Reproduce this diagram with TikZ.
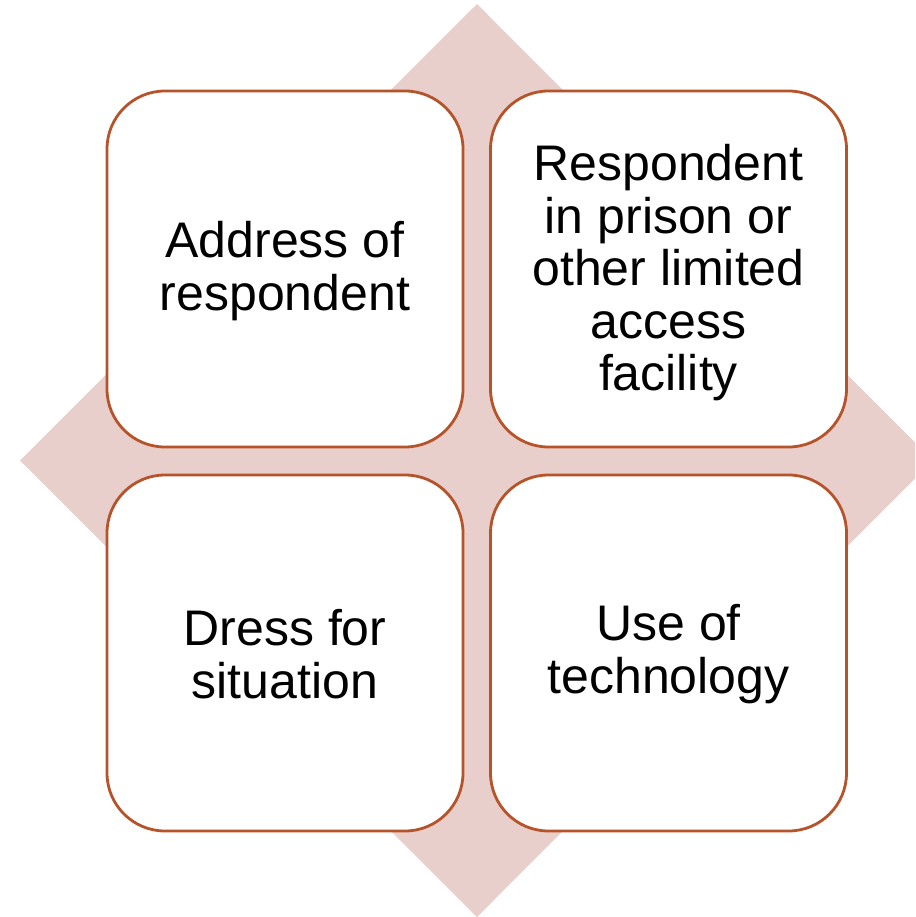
\documentclass[tikz,border=0pt]{standalone}
\usepackage{fontspec}
\setmainfont{Liberation Sans}
\definecolor{diam}{HTML}{E8CFCB}
\definecolor{edge}{HTML}{B5532A}
\begin{document}
\begin{tikzpicture}[x=1pt,y=-1pt,
  card/.style={draw=edge,line width=2.8pt,fill=white,rounded corners=58pt,
    minimum width=356pt,minimum height=356pt,inner sep=0pt},
  txt/.style={align=center,font=\fontsize{50}{52.5}\selectfont,inner sep=0pt}]
\useasboundingbox (0,0) rectangle (915,917);
\begin{scope}
\clip (0,0) rectangle (915,917);
\fill[diam] (477,4) -- (933,460.5) -- (477,917) -- (20,460.5) -- cycle;
\end{scope}
\node[card] (a) at (285,269) {};
\node[card] (b) at (668.5,269) {};
\node[card] (c) at (285,653) {};
\node[card] (d) at (668.5,653) {};
\node[txt] (ta) at ([yshift=-2pt]a.center) {Address of\\respondent};
\node[txt] (tb) at ([yshift=-4pt]b.center) {Respondent\\in prison or\\other limited\\access\\facility};
\node[txt] (tc) at ([yshift=-1pt]c.center) {Dress for\\situation};
\node[txt] (td) at ([yshift=-1pt]d.center) {Use of\\technology};
\end{tikzpicture}
\end{document}
